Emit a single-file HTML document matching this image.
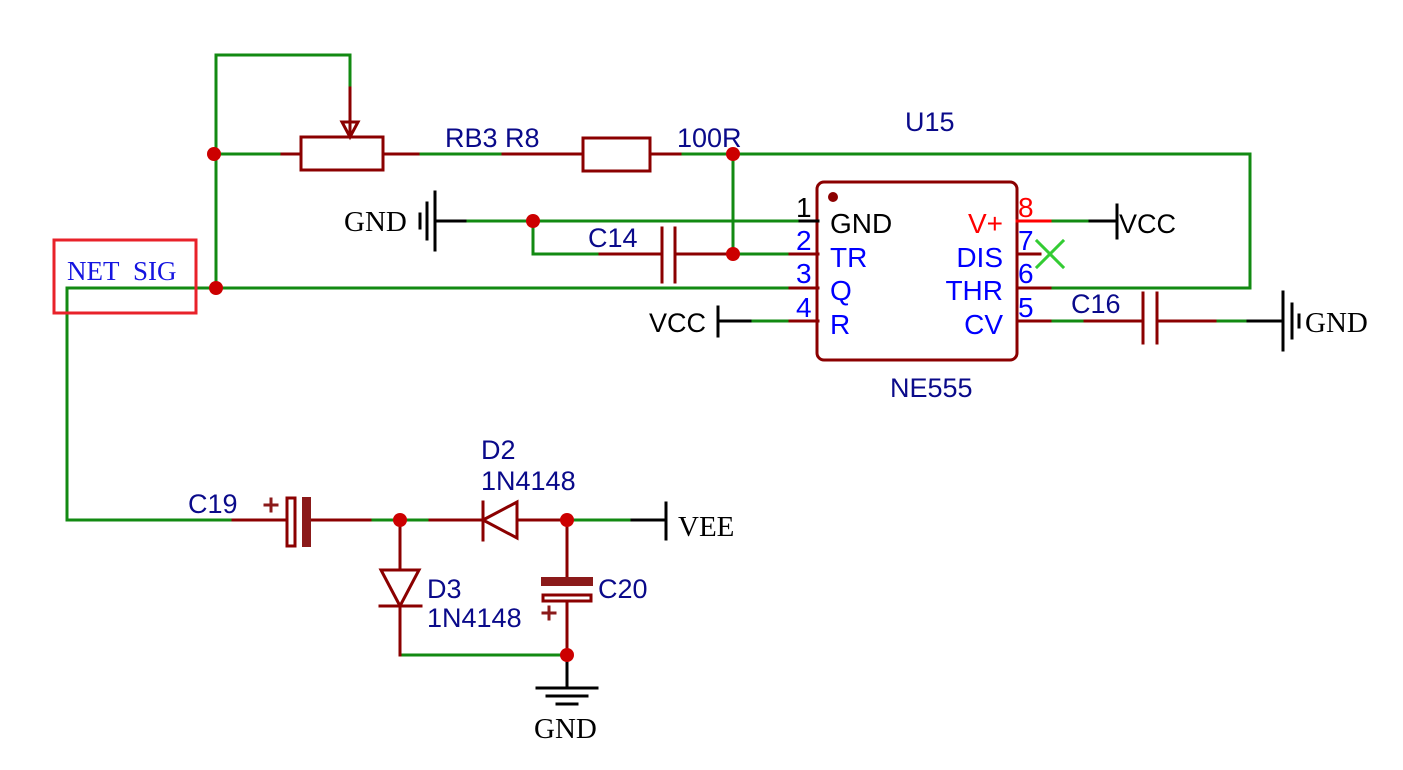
<!DOCTYPE html>
<html><head><style>
html,body{margin:0;padding:0;background:#fff;}
svg{display:block;}
.s{font-family:"Liberation Sans",sans-serif;font-size:27px;fill:#0a0a8a;}
.b{font-family:"Liberation Sans",sans-serif;font-size:28px;fill:#0000ff;}
.t{font-family:"Liberation Serif",serif;font-size:29px;fill:#000;}
</style></head><body>
<svg width="1403" height="770" viewBox="0 0 1403 770" xmlns="http://www.w3.org/2000/svg">
<g fill="none" stroke-width="3" stroke-linecap="square">
<g stroke="#128a12">
<polyline points="216,288 216,55 350,55 350,88"/>
<line x1="216" y1="154" x2="282" y2="154"/>
<line x1="418" y1="154" x2="503" y2="154"/>
<polyline points="680,154 1250,154 1250,288 1050,288"/>
<line x1="733" y1="154" x2="733" y2="254"/>
<line x1="465" y1="221" x2="800" y2="221"/>
<polyline points="533,221 533,254 600,254"/>
<line x1="733" y1="254" x2="790" y2="254"/>
<polyline points="67,288 790,288"/>
<polyline points="67,288 67,520 233,520"/>
<line x1="750" y1="321" x2="790" y2="321"/>
<line x1="1050" y1="221" x2="1090" y2="221"/>
<line x1="1050" y1="321" x2="1085" y2="321"/>
<line x1="1215" y1="321" x2="1248" y2="321"/>
<line x1="370" y1="520" x2="430" y2="520"/>
<line x1="567" y1="520" x2="632" y2="520"/>
<line x1="400" y1="655" x2="567" y2="655"/>
</g>
<g stroke="#8b0000">
<line x1="350" y1="88" x2="350" y2="137"/>
<polygon points="342,122 358,122 350,137"/>
<line x1="282" y1="154" x2="301" y2="154"/>
<rect x="301" y="137" width="82" height="33"/>
<line x1="383" y1="154" x2="418" y2="154"/>
<line x1="503" y1="154" x2="583" y2="154"/>
<rect x="583" y="138" width="67" height="33"/>
<line x1="650" y1="154" x2="680" y2="154"/>
<line x1="600" y1="254" x2="662" y2="254"/>
<line x1="662" y1="228" x2="662" y2="282"/>
<line x1="675" y1="228" x2="675" y2="282"/>
<line x1="675" y1="254" x2="733" y2="254"/>
<line x1="790" y1="254" x2="818" y2="254"/>
<line x1="790" y1="288" x2="818" y2="288"/>
<line x1="790" y1="321" x2="818" y2="321"/>
<rect x="817" y="182" width="200" height="178" rx="7"/>
<line x1="1017" y1="254" x2="1040" y2="254"/>
<line x1="1017" y1="288" x2="1050" y2="288"/>
<line x1="1017" y1="321" x2="1050" y2="321"/>
<line x1="1085" y1="321" x2="1143" y2="321"/>
<line x1="1143" y1="293" x2="1143" y2="343"/>
<line x1="1157" y1="293" x2="1157" y2="343"/>
<line x1="1157" y1="321" x2="1215" y2="321"/>
<line x1="233" y1="520" x2="285" y2="520"/>
<line x1="310" y1="520" x2="370" y2="520"/>
<line x1="430" y1="520" x2="483" y2="520"/>
<polygon points="483,520 517,502 517,538"/>
<line x1="483" y1="502" x2="483" y2="540"/>
<line x1="517" y1="520" x2="567" y2="520"/>
<line x1="400" y1="520" x2="400" y2="570"/>
<polygon points="381,570 419,570 400,606"/>
<line x1="380" y1="606" x2="421" y2="606"/>
<line x1="400" y1="606" x2="400" y2="655"/>
<line x1="567" y1="520" x2="567" y2="577"/>
<rect x="287" y="498" width="8" height="48"/>
<rect x="543" y="595" width="48" height="6"/>
<line x1="567" y1="601" x2="567" y2="655"/>
</g>
<rect x="302" y="497" width="9" height="50" fill="#8b1a1a"/>
<rect x="541" y="577" width="52" height="9" fill="#8b1a1a"/>
<g stroke="#8b1a1a"><line x1="265" y1="505" x2="277" y2="505"/><line x1="271" y1="499" x2="271" y2="511"/>
<line x1="543" y1="613" x2="555" y2="613"/><line x1="549" y1="607" x2="549" y2="619"/></g>
<line x1="1017" y1="221" x2="1050" y2="221" stroke="#ff0000"/>
<g stroke="#000">
<line x1="435" y1="221" x2="465" y2="221"/>
<line x1="435" y1="192" x2="435" y2="250"/>
<line x1="427" y1="203" x2="427" y2="239"/>
<line x1="420" y1="214" x2="420" y2="228"/>
<line x1="800" y1="221" x2="818" y2="221"/>
<line x1="718" y1="321" x2="750" y2="321"/>
<line x1="718" y1="307" x2="718" y2="336"/>
<line x1="1090" y1="221" x2="1117" y2="221"/>
<line x1="1117" y1="205" x2="1117" y2="238"/>
<line x1="1248" y1="321" x2="1283" y2="321"/>
<line x1="1283" y1="292" x2="1283" y2="350"/>
<line x1="1292" y1="304" x2="1292" y2="338"/>
<line x1="1299" y1="315" x2="1299" y2="327"/>
<line x1="632" y1="520" x2="666" y2="520"/>
<line x1="666" y1="503" x2="666" y2="539"/>
<line x1="567" y1="655" x2="567" y2="688"/>
<line x1="537" y1="688" x2="597" y2="688"/>
<line x1="547" y1="696" x2="587" y2="696"/>
<line x1="557" y1="704" x2="577" y2="704"/>
</g>
<g stroke="#33cc33"><line x1="1037" y1="241" x2="1063" y2="267"/><line x1="1063" y1="241" x2="1037" y2="267"/></g>
<rect x="54" y="240" width="142" height="73" stroke="#e8222a" stroke-width="3"/>
</g>
<g fill="#cc0000">
<circle cx="214" cy="154" r="7"/><circle cx="216" cy="288" r="7"/><circle cx="733" cy="154" r="7"/>
<circle cx="533" cy="221" r="7"/><circle cx="733" cy="254" r="7"/>
<circle cx="400" cy="520" r="7"/><circle cx="567" cy="520" r="7"/><circle cx="567" cy="655" r="7"/>
</g>
<circle cx="833" cy="197" r="5" fill="#8b0000"/>
<text x="445" y="147" class="s">RB3 R8</text>
<text x="677" y="147" class="s">100R</text>
<text x="905" y="131" class="s">U15</text>
<text x="588" y="247" class="s">C14</text>
<text x="1071" y="313" class="s">C16</text>
<text x="890" y="397" class="s">NE555</text>
<text x="188" y="513" class="s">C19</text>
<text x="481" y="459" class="s">D2</text>
<text x="481" y="490" class="s">1N4148</text>
<text x="427" y="598" class="s">D3</text>
<text x="427" y="627" class="s">1N4148</text>
<text x="598" y="598" class="s">C20</text>
<text x="344" y="231" class="t">GND</text>
<text x="649" y="332" class="s" style="fill:#000">VCC</text>
<text x="1119" y="233" class="s" style="fill:#000">VCC</text>
<text x="1305" y="332" class="t">GND</text>
<text x="678" y="536" class="t">VEE</text>
<text x="534" y="738" class="t">GND</text>
<text x="67" y="280" style="font-family:'Liberation Serif',serif;font-size:27px;fill:#1515e0">NET&#160;&#160;SIG</text>
<text x="796" y="217" class="b" style="fill:#000">1</text>
<text x="796" y="250" class="b">2</text>
<text x="796" y="283" class="b">3</text>
<text x="796" y="317" class="b">4</text>
<text x="830" y="233" class="b" style="fill:#000">GND</text>
<text x="830" y="267" class="b">TR</text>
<text x="830" y="300" class="b">Q</text>
<text x="830" y="334" class="b">R</text>
<text x="1003" y="233" class="b" text-anchor="end" style="fill:#ff0000">V+</text>
<text x="1003" y="267" class="b" text-anchor="end">DIS</text>
<text x="1003" y="300" class="b" text-anchor="end">THR</text>
<text x="1003" y="334" class="b" text-anchor="end">CV</text>
<text x="1018" y="217" class="b" style="fill:#ff0000">8</text>
<text x="1018" y="250" class="b">7</text>
<text x="1018" y="283" class="b">6</text>
<text x="1018" y="317" class="b">5</text>
</svg>
</body></html>
